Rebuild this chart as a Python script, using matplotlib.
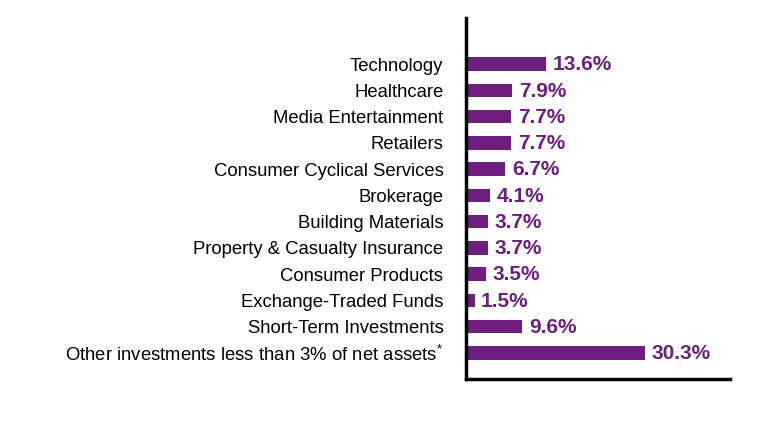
import matplotlib
matplotlib.use('Agg')
import matplotlib.pyplot as plt

plt.rcParams['font.family'] = ['Liberation Sans', 'DejaVu Sans']
plt.rcParams['mathtext.default'] = 'regular'

categories = [
    'Technology',
    'Healthcare',
    'Media Entertainment',
    'Retailers',
    'Consumer Cyclical Services',
    'Brokerage',
    'Building Materials',
    'Property & Casualty Insurance',
    'Consumer Products',
    'Exchange-Traded Funds',
    'Short-Term Investments',
    'Other investments less than 3% of net assets$^{*}$',
]
values = [13.6, 7.9, 7.7, 7.7, 6.7, 4.1, 3.7, 3.7, 3.5, 1.5, 9.6, 30.3]
value_labels = ['13.6%', '7.9%', '7.7%', '7.7%', '6.7%', '4.1%', '3.7%', '3.7%',
                '3.5%', '1.5%', '9.6%', '30.3%']

purple = '#6C1F7D'

fig = plt.figure(figsize=(7.8, 4.44), dpi=100)
ax = fig.add_axes([0.597, 0.146, 0.339, 0.813])

ypos = list(range(len(categories)))
ax.barh(ypos, values, height=0.52, color=purple)
for y, v, lab in zip(ypos, values, value_labels):
    ax.text(v + 1.1, y + 0.03, lab, va='center', ha='left', color=purple,
            fontsize=15, fontweight='bold')

ax.set_yticks(ypos)
ax.set_yticklabels(categories, fontsize=13.3)
ax.tick_params(axis='y', length=0, pad=16)
ax.set_xticks([])
ax.set_xlim(0, 44.7)
ax.set_ylim(12, -1.75)

for side in ['top', 'right']:
    ax.spines[side].set_visible(False)
for side in ['left', 'bottom']:
    ax.spines[side].set_linewidth(2.5)
    ax.spines[side].set_color('black')

fig.savefig('out.png', dpi=100)
